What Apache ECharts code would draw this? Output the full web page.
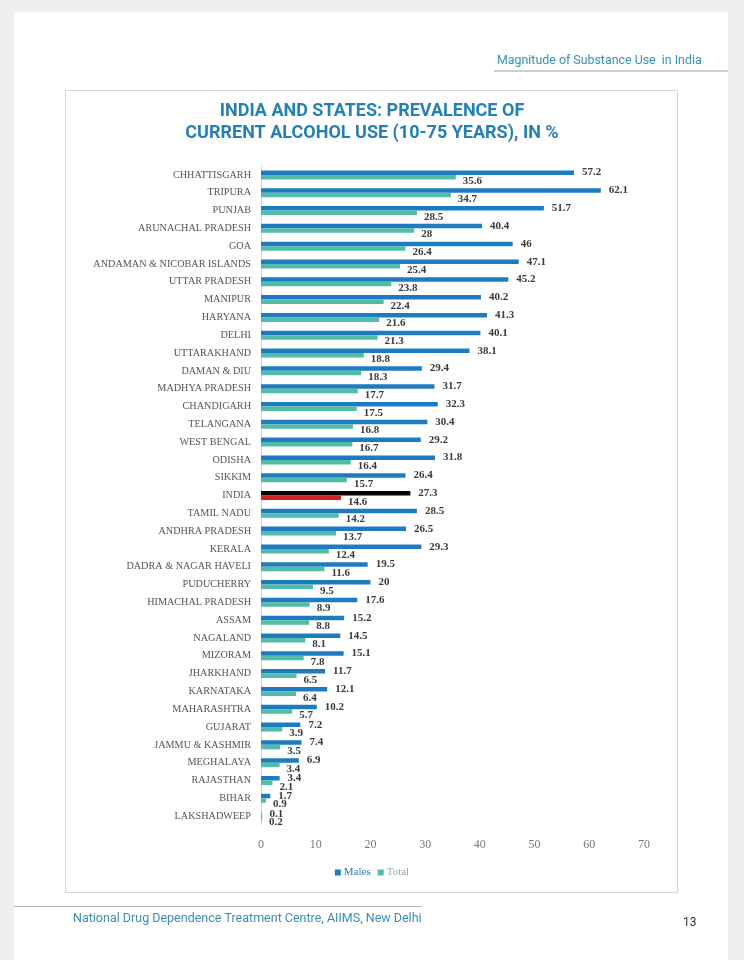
<!DOCTYPE html>
<html>
<head>
<meta charset="utf-8">
<script src="https://cdn.jsdelivr.net/npm/echarts@6/dist/echarts.min.js"></script>
<style>
  html, body { margin: 0; padding: 0; background: #efefef; }
  #chart { width: 744px; height: 960px; }
</style>
</head>
<body>
<div id="chart"></div>
<script>
  // states, top to bottom
  var states = ['CHHATTISGARH', 'TRIPURA', 'PUNJAB', 'ARUNACHAL PRADESH', 'GOA', 'ANDAMAN & NICOBAR ISLANDS',
    'UTTAR PRADESH', 'MANIPUR', 'HARYANA', 'DELHI', 'UTTARAKHAND', 'DAMAN & DIU', 'MADHYA PRADESH',
    'CHANDIGARH', 'TELANGANA', 'WEST BENGAL', 'ODISHA', 'SIKKIM', 'INDIA', 'TAMIL NADU', 'ANDHRA PRADESH',
    'KERALA', 'DADRA & NAGAR HAVELI', 'PUDUCHERRY', 'HIMACHAL PRADESH', 'ASSAM', 'NAGALAND', 'MIZORAM',
    'JHARKHAND', 'KARNATAKA', 'MAHARASHTRA', 'GUJARAT', 'JAMMU & KASHMIR', 'MEGHALAYA', 'RAJASTHAN',
    'BIHAR', 'LAKSHADWEEP']
  var males = [57.2, 62.1, 51.7, 40.4, 46, 47.1, 45.2, 40.2, 41.3, 40.1, 38.1, 29.4, 31.7, 32.3, 30.4, 29.2,
    31.8, 26.4, 27.3, 28.5, 26.5, 29.3, 19.5, 20, 17.6, 15.2, 14.5, 15.1, 11.7, 12.1, 10.2, 7.2, 7.4, 6.9,
    3.4, 1.7, 0.1]
  var total = [35.6, 34.7, 28.5, 28, 26.4, 25.4, 23.8, 22.4, 21.6, 21.3, 18.8, 18.3, 17.7, 17.5, 16.8, 16.7,
    16.4, 15.7, 14.6, 14.2, 13.7, 12.4, 11.6, 9.5, 8.9, 8.8, 8.1, 7.8, 6.5, 6.4, 5.7, 3.9, 3.5, 3.4, 2.1,
    0.9, 0.2]
  var xTicks = [0, 10, 20, 30, 40, 50, 60, 70]

  var serif = '"Liberation Serif", "DejaVu Serif", serif'
  var highlight = 'INDIA'

  function barData(values, hiColor) {
    return values.map(function (v, i) {
      if (states[i] === highlight) {
        return { value: v, itemStyle: { color: hiColor } }
      }
      return v
    })
  }

  var chart = echarts.init(document.getElementById('chart'))
  chart.setOption({
    backgroundColor: '#efefef',
    animation: false,
    graphic: [
      // page
      { type: 'rect', shape: { x: 14, y: 12, width: 714, height: 960 }, style: { fill: '#ffffff' }, z: -10 },
      // header
      { type: 'text', x: 497, y: 55, style: { text: 'Magnitude of Substance Use  in India', fill: '#3a90b4', font: '12.4px Roboto' } },
      { type: 'line', shape: { x1: 494, y1: 71, x2: 728, y2: 71 }, style: { stroke: '#a59f9a', lineWidth: 1 } },
      // chart box
      { type: 'rect', shape: { x: 65.5, y: 90.5, width: 612, height: 802 }, style: { fill: '#ffffff', stroke: '#d6d6d6', lineWidth: 1 }, z: -5 },
      // title
      { type: 'text', x: 372, y: 100, style: {
          text: 'INDIA AND STATES: PREVALENCE OF\nCURRENT ALCOHOL USE (10-75 YEARS), IN %',
          fill: '#2580b3', font: 'bold 18px Roboto', align: 'center', lineHeight: 22 } },
      // footer
      { type: 'line', shape: { x1: 14, y1: 906.5, x2: 422, y2: 906.5 }, style: { stroke: '#b5b5b5', lineWidth: 1 } },
      { type: 'text', x: 73, y: 912, style: { text: 'National Drug Dependence Treatment Centre, AIIMS, New Delhi', fill: '#3a8db6', font: '12.5px Roboto' } },
      { type: 'text', x: 683, y: 917, style: { text: '13', fill: '#333333', font: '12px Roboto' } }
    ],
    legend: {
      data: ['Males', 'Total'],
      bottom: 77,
      left: 'center',
      icon: 'rect',
      itemWidth: 6,
      itemHeight: 6,
      itemGap: 7,
      formatter: function (name) {
        return name === 'Males' ? '{m|Males}' : '{t|Total}'
      },
      textStyle: {
        fontFamily: serif,
        fontSize: 11,
        padding: [0, 0, 0, -2],
        rich: {
          m: { color: '#2a7ab0', fontFamily: serif, fontSize: 11 },
          t: { color: '#8fa9b5', fontFamily: serif, fontSize: 11 }
        }
      }
    },
    grid: {
      left: 261,
      right: 100,
      top: 166,
      bottom: 135
    },
    xAxis: {
      type: 'value',
      min: xTicks[0],
      max: xTicks[xTicks.length - 1],
      interval: 10,
      splitLine: { show: false },
      axisLine: { show: false },
      axisTick: { show: false },
      axisLabel: { color: '#777777', fontFamily: serif, fontSize: 12, margin: 14 }
    },
    yAxis: {
      type: 'category',
      inverse: true,
      data: states,
      axisTick: { show: false },
      axisLine: { show: true, lineStyle: { color: '#d9d9d9' } },
      axisLabel: { color: '#555555', fontFamily: serif, fontSize: 10.2, margin: 10 }
    },
    series: [{
      name: 'Males',
      type: 'bar',
      data: barData(males, '#000000'),
      barWidth: 4.5,
      barGap: '0%',
      itemStyle: { color: '#1c7cbf' },
      label: {
        show: true,
        position: 'right',
        distance: 8,
        color: '#3a3a3a',
        fontFamily: serif,
        fontWeight: 'bold',
        fontSize: 11
      }
    }, {
      name: 'Total',
      type: 'bar',
      data: barData(total, '#d11f1f'),
      barWidth: 4.5,
      itemStyle: { color: '#52bba9' },
      label: {
        show: true,
        position: 'right',
        distance: 7,
        offset: [0, 4],
        color: '#3a3a3a',
        fontFamily: serif,
        fontWeight: 'bold',
        fontSize: 11
      }
    }]
  })
</script>
</body>
</html>
